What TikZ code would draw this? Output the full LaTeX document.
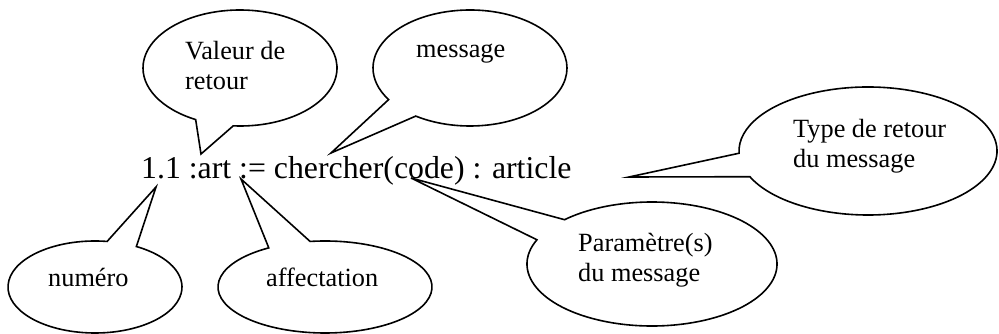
\documentclass[tikz,border=0pt]{standalone}
\usepackage{fontspec}
\setmainfont{Liberation Serif}
\tikzset{
  callout/.style={draw=black, line width=1.6pt, fill=white, line join=miter},
  lbl/.style={font=\fontsize{26.3}{30}\selectfont, inner sep=0pt, anchor=base west, align=left},
  mainexpr/.style={font=\fontsize{31.8}{36}\selectfont, inner sep=0pt, anchor=base west}
}
\begin{document}
\begin{tikzpicture}[x=1pt,y=1pt]
\useasboundingbox (0,0) rectangle (999,334);
% centres and tail tips
\coordinate (c1) at (240,266); \coordinate (t1) at (201,180);
\coordinate (c2) at (470,266); \coordinate (t2) at (331,181);
\coordinate (c3) at (868,183); \coordinate (t3) at (629,157);
\coordinate (c4) at (95,47);   \coordinate (t4) at (156,147);
\coordinate (c5) at (325,47);  \coordinate (t5) at (241,155);
\coordinate (c6) at (652,70);  \coordinate (t6) at (411,156);
% callouts
\draw[callout] (c1) ++(266:97 and 58) arc[start angle=266, end angle=602.8, x radius=97, y radius=58] -- (t1) -- cycle;
\draw[callout] (c2) ++(236:97 and 58) arc[start angle=236, end angle=573, x radius=97, y radius=58] -- (t2) -- cycle;
\draw[callout] (c3) ++(203.7:129 and 64) arc[start angle=203.7, end angle=542, x radius=129, y radius=64] -- (t3) -- cycle;
\draw[callout] (c4) ++(82:87 and 46) arc[start angle=82, end angle=421.6, x radius=87, y radius=46] -- (t4) -- cycle;
\draw[callout] (c5) ++(121.7:107 and 46) arc[start angle=121.7, end angle=458, x radius=107, y radius=46] -- (t5) -- cycle;
\draw[callout] (c6) ++(157:125 and 62) arc[start angle=157, end angle=494.4, x radius=125, y radius=62] -- (t6) -- cycle;
% texts
\node[mainexpr] (expr) at (141,155) {1.1 :art := chercher(code) : article};
\node[lbl] (valeur) at (185,244) {Valeur de\\retour};
\node[lbl] (message) at (416,276) {message};
\node[lbl] (type) at (793,166) {Type de retour\\du message};
\node[lbl] (numero) at (48,47) {numéro};
\node[lbl] (affect) at (266,47) {affectation};
\node[lbl] (param) at (578,52) {Paramètre(s)\\du message};
\end{tikzpicture}
\end{document}
